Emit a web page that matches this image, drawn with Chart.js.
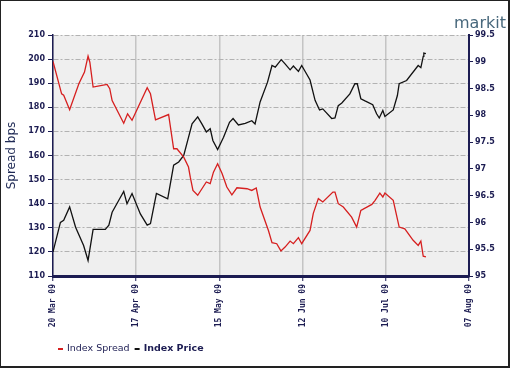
<!DOCTYPE html>
<html>
<head>
<meta charset="utf-8">
<script src="https://cdn.jsdelivr.net/npm/chart.js@4"></script>
<style>
  body { margin: 0; background: #fff; }
  #wrap { width: 510px; height: 368px; }
</style>
</head>
<body>
<div id="wrap"><canvas id="myChart" width="510" height="368"></canvas></div>
<script>
// x axis is days since 20 Mar 09
const xTickLabels = ['20 Mar 09', '17 Apr 09', '15 May 09', '12 Jun 09', '10 Jul 09', '07 Aug 09']

const spreadDays = [0, 2.9, 3.6, 5.6, 8.7, 10.6, 11.8, 12.4, 13.5, 16, 18.2, 19.1, 19.9, 23.8, 25.1, 26.6,
    31.7, 32.8, 34.5, 38.9, 40.6, 41.7, 44, 45.6, 46.2, 47.1, 48.7, 51.6, 52.9, 54, 55.4, 56.9, 58.5,
    60.2, 61.9, 65.3, 66.9, 68.4, 69.7, 72.5, 73.7, 75.3, 76.7, 78.1, 79.8, 80.9, 82.6, 83.7, 86.5,
    87.6, 89.3, 90.8, 94.2, 94.9, 96, 97.7, 100.5, 102.2, 103.6, 107.3, 108.4, 110, 111, 111.7, 114.5,
    116.5, 118.4, 121.2, 122.9, 123.8, 124.6, 125.5]
const spreadValues = [199, 185.6, 185, 179, 189.8, 194.6, 201.2, 198.7, 188.4, 189, 189.5, 187.7, 182.8, 173.4, 177.3, 174.6,
    188.1, 185.6, 174.8, 177, 162.8, 162.8, 159.3, 155.2, 151, 145.5, 143.5, 149, 148.3, 153.1, 156.6, 152.5, 146.9,
    143.7, 146.6, 146.2, 145.5, 146.5, 138.6, 128.9, 123.8, 123.4, 120.4, 122, 124.5, 123.4, 125.9, 123.4, 128.9,
    136, 142.1, 140.7, 144.8, 144.8, 140, 138.6, 134.4, 130.3, 137.2, 139.7, 141.4, 144.4, 142.8, 144.4, 141.4,
    130.3, 129.6, 124.8, 122.7, 124.5, 118.2, 117.9]

const priceDays = [0, 2.5, 3.6, 5.6, 7.6, 10.3, 11.8, 13.5, 17.6, 18.8, 19.9, 22.1, 23.8, 24.9, 26.6, 29.4,
    31.7, 32.8, 34.8, 38.6, 40.6, 42.3, 44, 45.6, 46.8, 48.7, 50.1, 51.6, 52.9, 53.8, 55.4, 57.4, 59.4,
    60.6, 62.4, 64.7, 66.9, 68, 69.7, 72.2, 73.7, 74.8, 76.8, 78.1, 79.8, 80.9, 82.6, 83.7, 86.5, 88.2,
    89.7, 90.8, 93.8, 94.9, 96, 97.2, 99.9, 101.6, 102.4, 103.6, 105, 107.6, 108.9, 109.8, 111, 111.7,
    114.5, 115.9, 116.5, 119, 122.9, 123.8, 124.6, 124.8, 125.5]
const priceValues = [95.45, 96.0, 96.04, 96.29, 95.91, 95.57, 95.29, 95.87, 95.87, 95.95, 96.19, 96.41, 96.58, 96.35, 96.54, 96.16,
    95.95, 95.98, 96.54, 96.44, 97.07, 97.13, 97.25, 97.59, 97.84, 97.97, 97.84, 97.69, 97.75, 97.53, 97.36, 97.59, 97.87,
    97.94, 97.82, 97.85, 97.9, 97.84, 98.25, 98.62, 98.93, 98.9, 99.04, 98.96, 98.85, 98.92, 98.82, 98.93, 98.66, 98.28,
    98.1, 98.12, 97.94, 97.95, 98.18, 98.23, 98.4, 98.59, 98.59, 98.31, 98.27, 98.2, 98.03, 97.95, 98.09, 97.98,
    98.1, 98.37, 98.59, 98.65, 98.93, 98.89, 99.1, 99.16, 99.15]

const navy = '#1c1c52'

const toPoints = (xs, ys) => xs.map((x, i) => ({ x: x, y: ys[i] }))

// grey plot area, outer frame, logo and legend
const decor = {
    id: 'decor',
    beforeDraw(chart) {
        const { ctx, chartArea: a } = chart
        ctx.save()
        ctx.fillStyle = '#efefef'
        ctx.fillRect(a.left, a.top, a.right - a.left, a.bottom - a.top)
        ctx.restore()
    },
    afterDraw(chart) {
        const ctx = chart.ctx
        ctx.save()
        ctx.strokeStyle = '#222'
        ctx.lineWidth = 1
        ctx.strokeRect(0.5, 0.5, 508.5, 366.5)
        ctx.fillStyle = '#222'
        ctx.fillRect(508, 0, 2, 368)
        ctx.fillRect(0, 366, 510, 2)

        ctx.font = '16px "DejaVu Sans"'
        ctx.fillStyle = '#48687c'
        ctx.textBaseline = 'alphabetic'
        ctx.fillText('markit', 454, 28)

        // legend
        let x = 58
        const y = 349
        ctx.textBaseline = 'middle'
        chart.data.datasets.forEach((ds, i) => {
            ctx.fillStyle = ds.borderColor
            ctx.fillRect(x, y - 1, 5, 2)
            x += 9
            ctx.font = (i == 1 ? 'bold ' : '') + '9.5px "DejaVu Sans"'
            ctx.fillStyle = navy
            ctx.fillText(ds.label, x, y)
            x += ctx.measureText(ds.label).width + 5
        })
        ctx.restore()
    }
}

const ctx = document.querySelector('#myChart').getContext('2d')
const myChart = new Chart(ctx, {
    type: 'line',
    data: {
        datasets: [
            {
                label: 'Index Spread',
                data: toPoints(spreadDays, spreadValues),
                borderColor: '#d61f1f',
                borderWidth: 1.3,
                pointRadius: 0,
                yAxisID: 'y'
            },
            {
                label: 'Index Price',
                data: toPoints(priceDays, priceValues),
                borderColor: '#111111',
                borderWidth: 1.3,
                pointRadius: 0,
                yAxisID: 'y1'
            }
        ]
    },
    options: {
        responsive: false,
        animation: false,
        layout: { padding: { top: 35, left: 0, right: 0, bottom: 0 } },
        plugins: {
            legend: { display: false },
            tooltip: { enabled: false }
        },
        scales: {
            x: {
                type: 'linear',
                min: 0,
                max: 140,
                afterFit: s => { s.height = 92 },
                ticks: {
                    stepSize: 28,
                    maxRotation: 90,
                    minRotation: 90,
                    padding: 3,
                    color: navy,
                    font: { family: '"DejaVu Sans Mono"', size: 8, weight: 'bold' },
                    callback: (v, i) => xTickLabels[i]
                },
                grid: { color: '#c4c4c4', lineWidth: 1.5, tickColor: navy, tickLength: 5, tickWidth: 1 },
                border: { color: navy, width: 3 }
            },
            y: {
                position: 'left',
                min: 110,
                max: 210,
                afterFit: s => { s.width = 53 },
                ticks: {
                    stepSize: 10,
                    padding: 3,
                    color: navy,
                    font: { family: '"DejaVu Sans"', size: 8, weight: 'bold' }
                },
                title: {
                    display: true,
                    text: 'Spread bps',
                    color: '#1f2a55',
                    font: { family: '"DejaVu Sans"', size: 12 },
                    padding: { top: 5, bottom: 0 }
                },
                grid: { color: '#b2b2b2', lineWidth: 1, tickColor: navy, tickLength: 5, tickWidth: 1 },
                border: { color: navy, width: 1.5, dash: [5, 2, 2, 2] }
            },
            y1: {
                position: 'right',
                min: 95,
                max: 99.5,
                afterFit: s => { s.width = 41 },
                ticks: {
                    stepSize: 0.5,
                    padding: 2,
                    color: navy,
                    font: { family: '"DejaVu Sans"', size: 8, weight: 'bold' },
                    callback: v => String(v)
                },
                grid: { drawOnChartArea: false, color: navy, tickColor: navy, tickLength: 4, tickWidth: 1 },
                border: { color: navy, width: 2 }
            }
        }
    },
    plugins: [decor]
})
</script>
</body>
</html>
